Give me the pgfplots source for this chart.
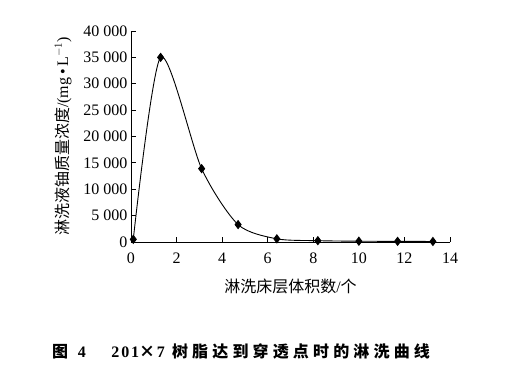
\documentclass[border=0pt]{standalone}
\usepackage{pgfplots}
\pgfplotsset{compat=1.18}
\usepackage{fontspec}
\setmainfont{Liberation Serif}
\newfontfamily\cjk{Noto Sans CJK SC}
\newfontfamily\cjkcap[LetterSpace=26]{Noto Sans CJK SC}
\newfontfamily\latcap[LetterSpace=12]{Liberation Serif}
\begin{document}
\begin{tikzpicture}
\useasboundingbox (0pt,0pt) rectangle (512pt,380pt);
\begin{axis}[
  at={(131pt,138pt)}, anchor=south west,
  scale only axis, width=319pt, height=211pt,
  xmin=0, xmax=14, ymin=0, ymax=40000,
  axis lines*=left,
  axis line style={line width=0.8pt},
  tick align=inside,
  major tick length=5pt,
  tick style={line width=0.8pt, black},
  xtick={0,2,...,14},
  ytick={0,5000,...,40000},
  scaled y ticks=false,
  /pgf/number format/assume math mode=true,
  /pgf/number format/1000 sep={\ },
  tick label style={font=\fontsize{16}{18}\selectfont},
  xticklabel style={yshift=-7pt},
  yticklabel style={xshift=0pt},
  xlabel={{\cjk 淋洗床层体积数}/{\cjk 个}},
  xlabel style={font=\fontsize{16}{18}\selectfont, yshift=-9pt},
  ylabel={{\cjk 淋洗液铀质量浓度}/(mg\,•\,L$^{-1}$)},
  ylabel style={font=\fontsize{16}{18}\selectfont, yshift=5pt},
  clip=false,
]
\addplot[black, line width=0.9pt, smooth, tension=0.45, mark=diamond*, mark size=4pt, mark options={solid}]
coordinates {
(0.1,500) (1.3,35000) (3.1,13900) (4.7,3300) (6.4,600) (8.2,250) (10.0,150) (11.7,120) (13.25,100)
};
\end{axis}
\node[anchor=base west, inner sep=0pt] at (52pt,22pt) {\fontsize{16}{18}\selectfont\bfseries {\cjk\bfseries 图}\hspace{0.6em}{\latcap 4}\hspace{1.6em}{\latcap 201}{\cjk\bfseries ×}\hspace{0.1em}{\latcap 7}\hspace{0.45em}{\cjkcap\bfseries 树脂达到穿透点时的淋洗曲线}};
\end{tikzpicture}
\end{document}
